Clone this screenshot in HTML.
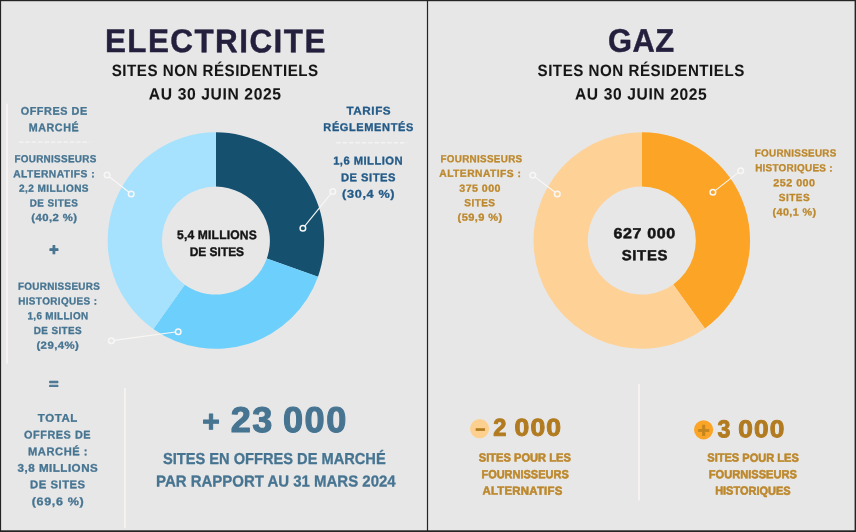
<!DOCTYPE html><html lang="fr"><head><meta charset="utf-8"><title>Sites non résidentiels</title>
<style>html,body{margin:0;padding:0;background:#e7e7e7}body{width:856px;height:532px;overflow:hidden}svg{display:block}text{font-family:"Liberation Sans",sans-serif;font-weight:700;white-space:pre;stroke-linejoin:round}</style></head><body>
<svg width="856" height="532" viewBox="0 0 856 532">
<rect width="856" height="532" fill="#e7e7e7"/>
<path d="M215.90 132.35A108.25 108.25 0 0 1 317.98 276.63L266.82 258.57A54.0 54.0 0 0 0 215.90 186.60Z" fill="#15506f"/>
<path d="M317.98 276.63A108.25 108.25 0 0 1 153.38 328.97L184.71 284.68A54.0 54.0 0 0 0 266.82 258.57Z" fill="#6ccffc"/>
<path d="M153.38 328.97A108.25 108.25 0 0 1 215.90 132.35L215.90 186.60A54.0 54.0 0 0 0 184.71 284.68Z" fill="#a6e2fe"/>
<path d="M641.80 132.25A108.25 108.25 0 0 1 704.88 328.47L673.27 284.39A54.0 54.0 0 0 0 641.80 186.50Z" fill="#fca426"/>
<path d="M704.88 328.47A108.25 108.25 0 1 1 641.80 132.25L641.80 186.50A54.0 54.0 0 1 0 673.27 284.39Z" fill="#fed197"/>
<g stroke="#f7f4f2" stroke-width="1.7"><line x1="7" y1="103.8" x2="7" y2="363.7"/><line x1="124.9" y1="388" x2="124.9" y2="528"/><line x1="639" y1="384" x2="639" y2="500.5"/></g>
<g stroke="#fbfbfb" stroke-width=".85" stroke-dasharray="4.6 1.77"><line x1="18.9" y1="142.1" x2="89.7" y2="142.1"/><line x1="336.2" y1="142.8" x2="407" y2="142.8"/></g>
<g stroke="#f9f7f5" fill="none"><line stroke-width="1.1" x1="109.30" y1="176.73" x2="129.00" y2="192.27"/><circle stroke-width="1.5" cx="107.10" cy="175.00" r="2.8"/><circle stroke-width="1.5" cx="131.20" cy="194.00" r="2.8"/></g>
<g stroke="#f9f7f5" fill="none"><line stroke-width="1.1" x1="114.08" y1="340.33" x2="175.42" y2="332.07"/><circle stroke-width="1.5" cx="111.30" cy="340.70" r="2.8"/><circle stroke-width="1.5" cx="178.20" cy="331.70" r="2.8"/></g>
<g stroke="#f9f7f5" fill="none"><line stroke-width="1.1" x1="331.03" y1="193.67" x2="304.67" y2="226.03"/><circle stroke-width="1.5" cx="332.80" cy="191.50" r="2.8"/><circle stroke-width="1.5" cx="302.90" cy="228.20" r="2.8"/></g>
<g stroke="#f9f7f5" fill="none"><line stroke-width="1.1" x1="535.03" y1="177.00" x2="555.07" y2="192.30"/><circle stroke-width="1.5" cx="532.80" cy="175.30" r="2.8"/><circle stroke-width="1.5" cx="557.30" cy="194.00" r="2.8"/></g>
<g stroke="#f9f7f5" fill="none"><line stroke-width="1.1" x1="738.49" y1="172.42" x2="715.11" y2="190.58"/><circle stroke-width="1.5" cx="740.70" cy="170.70" r="2.8"/><circle stroke-width="1.5" cx="712.90" cy="192.30" r="2.8"/></g>
<circle cx="479.6" cy="428.7" r="9.6" fill="#fed08f"/>
<circle cx="703.6" cy="429.8" r="9.6" fill="#fca426"/>
<text id="I0" transform="translate(210.9 421.4) rotate(.03) scale(1.0 1)" x="0" y="9.98" font-size="30" text-anchor="middle" fill="#467491" stroke="#467491" stroke-width="1.0" stroke-linejoin="round">+</text>
<text id="P" transform="translate(53.8 249.7) rotate(.03) scale(1.0 1)" x="0" y="5.32" font-size="16" text-anchor="middle" fill="#467491" stroke="#467491" stroke-width="1.0" stroke-linejoin="round">+</text>
<text id="E" transform="translate(53.8 383.8) rotate(.03) scale(1.13 1)" x="0" y="4.82" font-size="14.5" text-anchor="middle" fill="#467491" stroke="#467491" stroke-width="0.85" stroke-linejoin="round">=</text>
<text id="Q" transform="translate(480.3 429.3) rotate(.03) scale(1.0 1)" x="0" y="5.82" font-size="17.5" text-anchor="middle" fill="#b27c1e" stroke="#b27c1e" stroke-width="0.6" stroke-linejoin="round">−</text>
<text id="S" transform="translate(703.7 430.4) rotate(.03) scale(1.0 1)" x="0" y="6.82" font-size="20.5" text-anchor="middle" fill="#c3861f" stroke="#c3861f" stroke-width="0.8" stroke-linejoin="round">+</text>
<text id="T1" transform="rotate(.03 104.9 52.1)" x="104.88" y="52.08" font-size="32.78" letter-spacing="1.50" textLength="221.92" lengthAdjust="spacingAndGlyphs" fill="#231f3d" stroke="#231f3d" stroke-width="0.45">ELECTRICITE</text>
<text id="T2" transform="rotate(.03 111.8 75.9)" x="111.77" y="75.88" font-size="16.35" letter-spacing="0.56" textLength="206.91" lengthAdjust="spacingAndGlyphs" fill="#151515" stroke="#151515" stroke-width="0.05">SITES NON RÉSIDENTIELS</text>
<text id="T3" transform="rotate(.03 148.8 99.5)" x="148.82" y="99.47" font-size="16.35" letter-spacing="0.65" textLength="132.85" lengthAdjust="spacingAndGlyphs" fill="#151515" stroke="#151515" stroke-width="0.05">AU 30 JUIN 2025</text>
<text id="A1" transform="rotate(.03 20.7 114.8)" x="20.66" y="114.85" font-size="11.19" letter-spacing="0.56" textLength="67.03" lengthAdjust="spacingAndGlyphs" fill="#467491" stroke="#467491" stroke-width="0.3">OFFRES DE</text>
<text id="A2" transform="rotate(.03 28.6 131.1)" x="28.63" y="131.15" font-size="11.19" letter-spacing="0.64" textLength="50.67" lengthAdjust="spacingAndGlyphs" fill="#467491" stroke="#467491" stroke-width="0.3">MARCHÉ</text>
<text id="B1" transform="rotate(.03 14.4 162.2)" x="14.41" y="162.25" font-size="10.32" letter-spacing="0.32" textLength="82.17" lengthAdjust="spacingAndGlyphs" fill="#467491" stroke="#467491" stroke-width="0.3">FOURNISSEURS</text>
<text id="B2" transform="rotate(.03 13.1 177.1)" x="13.14" y="177.15" font-size="10.32" letter-spacing="0.46" textLength="81.88" lengthAdjust="spacingAndGlyphs" fill="#467491" stroke="#467491" stroke-width="0.3">ALTERNATIFS :</text>
<text id="B3" transform="rotate(.03 19.1 191.7)" x="19.12" y="191.75" font-size="10.32" letter-spacing="0.43" textLength="69.89" lengthAdjust="spacingAndGlyphs" fill="#467491" stroke="#467491" stroke-width="0.3">2,2 MILLIONS</text>
<text id="B4" transform="rotate(.03 29.7 206.4)" x="29.71" y="206.45" font-size="10.32" letter-spacing="0.46" textLength="48.49" lengthAdjust="spacingAndGlyphs" fill="#467491" stroke="#467491" stroke-width="0.3">DE SITES</text>
<text id="B5" transform="rotate(.03 31.3 220.9)" x="31.27" y="220.95" font-size="10.32" letter-spacing="0.38" textLength="46.21" lengthAdjust="spacingAndGlyphs" fill="#467491" stroke="#467491" stroke-width="0.3">(40,2 %)</text>
<text id="C1" transform="rotate(.03 18.0 289.8)" x="17.97" y="289.75" font-size="10.32" letter-spacing="0.31" textLength="82.05" lengthAdjust="spacingAndGlyphs" fill="#467491" stroke="#467491" stroke-width="0.3">FOURNISSEURS</text>
<text id="C2" transform="rotate(.03 18.2 304.6)" x="18.16" y="304.55" font-size="10.32" letter-spacing="0.42" textLength="79.33" lengthAdjust="spacingAndGlyphs" fill="#467491" stroke="#467491" stroke-width="0.3">HISTORIQUES :</text>
<text id="C3" transform="rotate(.03 27.5 319.2)" x="27.46" y="319.25" font-size="10.32" letter-spacing="0.37" textLength="61.00" lengthAdjust="spacingAndGlyphs" fill="#467491" stroke="#467491" stroke-width="0.3">1,6 MILLION</text>
<text id="C4" transform="rotate(.03 33.8 334.1)" x="33.76" y="334.05" font-size="10.32" letter-spacing="0.40" textLength="48.23" lengthAdjust="spacingAndGlyphs" fill="#467491" stroke="#467491" stroke-width="0.3">DE SITES</text>
<text id="C5" transform="rotate(.03 36.4 348.7)" x="36.40" y="348.65" font-size="10.32" letter-spacing="0.41" textLength="42.95" lengthAdjust="spacingAndGlyphs" fill="#467491" stroke="#467491" stroke-width="0.3">(29,4%)</text>
<text id="D1" transform="rotate(.03 37.8 421.9)" x="37.75" y="421.85" font-size="11.19" letter-spacing="0.57" textLength="40.22" lengthAdjust="spacingAndGlyphs" fill="#467491" stroke="#467491" stroke-width="0.3">TOTAL</text>
<text id="D2" transform="rotate(.03 24.0 438.4)" x="24.02" y="438.45" font-size="11.19" letter-spacing="0.56" textLength="67.16" lengthAdjust="spacingAndGlyphs" fill="#467491" stroke="#467491" stroke-width="0.3">OFFRES DE</text>
<text id="D3" transform="rotate(.03 28.1 455.2)" x="28.06" y="455.15" font-size="11.19" letter-spacing="0.55" textLength="60.09" lengthAdjust="spacingAndGlyphs" fill="#467491" stroke="#467491" stroke-width="0.3">MARCHÉ :</text>
<text id="D4" transform="rotate(.03 17.6 471.8)" x="17.58" y="471.75" font-size="11.19" letter-spacing="0.47" textLength="80.65" lengthAdjust="spacingAndGlyphs" fill="#467491" stroke="#467491" stroke-width="0.3">3,8 MILLIONS</text>
<text id="D5" transform="rotate(.03 30.1 488.4)" x="30.08" y="488.35" font-size="11.19" letter-spacing="0.50" textLength="55.57" lengthAdjust="spacingAndGlyphs" fill="#467491" stroke="#467491" stroke-width="0.3">DE SITES</text>
<text id="D6" transform="rotate(.03 31.7 505.2)" x="31.75" y="505.15" font-size="11.19" letter-spacing="0.57" textLength="52.56" lengthAdjust="spacingAndGlyphs" fill="#467491" stroke="#467491" stroke-width="0.3">(69,6 %)</text>
<text id="F1" transform="rotate(.03 346.5 114.5)" x="346.50" y="114.45" font-size="11.19" letter-spacing="0.52" textLength="44.73" lengthAdjust="spacingAndGlyphs" fill="#235a87" stroke="#235a87" stroke-width="0.3">TARIFS</text>
<text id="F2" transform="rotate(.03 323.3 131.0)" x="323.33" y="131.05" font-size="11.19" letter-spacing="0.61" textLength="90.57" lengthAdjust="spacingAndGlyphs" fill="#235a87" stroke="#235a87" stroke-width="0.3">RÉGLEMENTÉS</text>
<text id="G1" transform="rotate(.03 333.1 164.4)" x="333.13" y="164.45" font-size="11.34" letter-spacing="0.47" textLength="70.01" lengthAdjust="spacingAndGlyphs" fill="#235a87" stroke="#235a87" stroke-width="0.3">1,6 MILLION</text>
<text id="G2" transform="rotate(.03 340.9 181.2)" x="340.92" y="181.25" font-size="11.34" letter-spacing="0.51" textLength="55.11" lengthAdjust="spacingAndGlyphs" fill="#235a87" stroke="#235a87" stroke-width="0.3">DE SITES</text>
<text id="G3" transform="rotate(.03 342.1 197.8)" x="342.12" y="197.85" font-size="11.34" letter-spacing="0.58" textLength="53.11" lengthAdjust="spacingAndGlyphs" fill="#235a87" stroke="#235a87" stroke-width="0.3">(30,4 %)</text>
<text id="H1" transform="rotate(.03 177.0 239.1)" x="176.99" y="239.10" font-size="12.50" letter-spacing="0.20" textLength="79.97" lengthAdjust="spacingAndGlyphs" fill="#151515" stroke="#151515" stroke-width="0.4">5,4 MILLIONS</text>
<text id="H2" transform="rotate(.03 189.8 255.9)" x="189.76" y="255.90" font-size="12.50" textLength="54.33" lengthAdjust="spacingAndGlyphs" fill="#151515" stroke="#151515" stroke-width="0.4">DE SITES</text>
<text id="I1" transform="rotate(.03 230.7 431.9)" x="230.72" y="431.95" font-size="35.90" letter-spacing="1.57" textLength="43.24" lengthAdjust="spacingAndGlyphs" fill="#467491" stroke="#467491" stroke-width="1.1">23</text>
<text id="I1b" transform="rotate(.03 282.9 431.9)" x="282.94" y="431.95" font-size="35.90" letter-spacing="1.57" textLength="65.00" lengthAdjust="spacingAndGlyphs" fill="#467491" stroke="#467491" stroke-width="1.1">000</text>
<text id="I2" transform="rotate(.03 163.0 464.4)" x="163.03" y="464.35" font-size="15.84" textLength="222.66" lengthAdjust="spacingAndGlyphs" fill="#467491" stroke="#467491" stroke-width="0.3">SITES EN OFFRES DE MARCHÉ</text>
<text id="I3" transform="rotate(.03 156.0 486.4)" x="156.03" y="486.45" font-size="15.84" textLength="239.59" lengthAdjust="spacingAndGlyphs" fill="#467491" stroke="#467491" stroke-width="0.3">PAR RAPPORT AU 31 MARS 2024</text>
<text id="J1" transform="rotate(.03 608.1 51.8)" x="608.10" y="51.77" font-size="32.78" letter-spacing="0.54" textLength="66.63" lengthAdjust="spacingAndGlyphs" fill="#231f3d" stroke="#231f3d" stroke-width="0.45">GAZ</text>
<text id="J2" transform="rotate(.03 537.5 76.0)" x="537.54" y="75.97" font-size="16.35" letter-spacing="0.58" textLength="207.31" lengthAdjust="spacingAndGlyphs" fill="#151515" stroke="#151515" stroke-width="0.05">SITES NON RÉSIDENTIELS</text>
<text id="J3" transform="rotate(.03 575.0 99.6)" x="574.95" y="99.58" font-size="16.35" letter-spacing="0.65" textLength="132.42" lengthAdjust="spacingAndGlyphs" fill="#151515" stroke="#151515" stroke-width="0.05">AU 30 JUIN 2025</text>
<text id="K1" transform="rotate(.03 440.4 162.1)" x="440.41" y="162.15" font-size="10.32" letter-spacing="0.34" textLength="82.10" lengthAdjust="spacingAndGlyphs" fill="#bd882c" stroke="#bd882c" stroke-width="0.3">FOURNISSEURS</text>
<text id="K2" transform="rotate(.03 439.2 176.8)" x="439.25" y="176.85" font-size="10.32" letter-spacing="0.46" textLength="82.03" lengthAdjust="spacingAndGlyphs" fill="#bd882c" stroke="#bd882c" stroke-width="0.3">ALTERNATIFS :</text>
<text id="K3" transform="rotate(.03 459.4 191.6)" x="459.38" y="191.65" font-size="10.32" letter-spacing="0.42" textLength="41.51" lengthAdjust="spacingAndGlyphs" fill="#bd882c" stroke="#bd882c" stroke-width="0.3">375 000</text>
<text id="K4" transform="rotate(.03 464.3 206.3)" x="464.34" y="206.35" font-size="10.32" letter-spacing="0.47" textLength="31.14" lengthAdjust="spacingAndGlyphs" fill="#bd882c" stroke="#bd882c" stroke-width="0.3">SITES</text>
<text id="K5" transform="rotate(.03 457.6 220.8)" x="457.58" y="220.85" font-size="10.32" letter-spacing="0.38" textLength="45.06" lengthAdjust="spacingAndGlyphs" fill="#bd882c" stroke="#bd882c" stroke-width="0.3">(59,9 %)</text>
<text id="L1" transform="rotate(.03 754.7 156.5)" x="754.73" y="156.55" font-size="10.32" letter-spacing="0.30" textLength="81.88" lengthAdjust="spacingAndGlyphs" fill="#bd882c" stroke="#bd882c" stroke-width="0.3">FOURNISSEURS</text>
<text id="L2" transform="rotate(.03 755.2 171.3)" x="755.16" y="171.35" font-size="10.32" letter-spacing="0.27" textLength="77.64" lengthAdjust="spacingAndGlyphs" fill="#bd882c" stroke="#bd882c" stroke-width="0.3">HISTORIQUES :</text>
<text id="L3" transform="rotate(.03 773.4 186.2)" x="773.36" y="186.25" font-size="10.32" letter-spacing="0.42" textLength="42.11" lengthAdjust="spacingAndGlyphs" fill="#bd882c" stroke="#bd882c" stroke-width="0.3">252 000</text>
<text id="L4" transform="rotate(.03 778.9 200.9)" x="778.87" y="200.95" font-size="10.32" letter-spacing="0.47" textLength="31.32" lengthAdjust="spacingAndGlyphs" fill="#bd882c" stroke="#bd882c" stroke-width="0.3">SITES</text>
<text id="L5" transform="rotate(.03 772.6 215.5)" x="772.58" y="215.55" font-size="10.32" letter-spacing="0.38" textLength="43.94" lengthAdjust="spacingAndGlyphs" fill="#bd882c" stroke="#bd882c" stroke-width="0.3">(40,1 %)</text>
<text id="M1" transform="rotate(.03 613.4 238.1)" x="613.45" y="238.15" font-size="14.68" letter-spacing="0.60" textLength="62.47" lengthAdjust="spacingAndGlyphs" fill="#151515" stroke="#151515" stroke-width="0.5">627 000</text>
<text id="M2" transform="rotate(.03 621.7 260.1)" x="621.66" y="260.15" font-size="14.68" letter-spacing="0.67" textLength="46.46" lengthAdjust="spacingAndGlyphs" fill="#151515" stroke="#151515" stroke-width="0.5">SITES</text>
<text id="N1" transform="rotate(.03 493.1 435.7)" x="493.15" y="435.70" font-size="24.42" textLength="13.16" lengthAdjust="spacingAndGlyphs" fill="#b27b20" stroke="#b27b20" stroke-width="1.0">2</text>
<text id="N1b" transform="rotate(.03 514.6 435.7)" x="514.58" y="435.70" font-size="24.42" letter-spacing="1.08" textLength="47.64" lengthAdjust="spacingAndGlyphs" fill="#b27b20" stroke="#b27b20" stroke-width="1.0">000</text>
<text id="N2" transform="rotate(.03 478.8 461.4)" x="478.80" y="461.43" font-size="11.70" textLength="92.04" lengthAdjust="spacingAndGlyphs" fill="#bd882c" stroke="#bd882c" stroke-width="0.55">SITES POUR LES</text>
<text id="N3" transform="rotate(.03 481.4 478.2)" x="481.43" y="478.23" font-size="11.70" textLength="87.31" lengthAdjust="spacingAndGlyphs" fill="#bd882c" stroke="#bd882c" stroke-width="0.55">FOURNISSEURS</text>
<text id="N4" transform="rotate(.03 482.4 494.6)" x="482.42" y="494.62" font-size="11.70" letter-spacing="0.23" textLength="80.13" lengthAdjust="spacingAndGlyphs" fill="#bd882c" stroke="#bd882c" stroke-width="0.55">ALTERNATIFS</text>
<text id="O1" transform="rotate(.03 717.6 437.2)" x="717.60" y="437.20" font-size="24.42" textLength="12.89" lengthAdjust="spacingAndGlyphs" fill="#b27b20" stroke="#b27b20" stroke-width="1.0">3</text>
<text id="O1b" transform="rotate(.03 738.4 437.2)" x="738.35" y="437.20" font-size="24.42" letter-spacing="1.08" textLength="47.14" lengthAdjust="spacingAndGlyphs" fill="#b27b20" stroke="#b27b20" stroke-width="1.0">000</text>
<text id="O2" transform="rotate(.03 707.3 461.6)" x="707.27" y="461.62" font-size="11.70" textLength="91.60" lengthAdjust="spacingAndGlyphs" fill="#bd882c" stroke="#bd882c" stroke-width="0.55">SITES POUR LES</text>
<text id="O3" transform="rotate(.03 708.8 478.2)" x="708.81" y="478.23" font-size="11.70" textLength="88.12" lengthAdjust="spacingAndGlyphs" fill="#bd882c" stroke="#bd882c" stroke-width="0.55">FOURNISSEURS</text>
<text id="O4" transform="rotate(.03 715.2 494.6)" x="715.16" y="494.62" font-size="11.70" textLength="75.35" lengthAdjust="spacingAndGlyphs" fill="#bd882c" stroke="#bd882c" stroke-width="0.55">HISTORIQUES</text>
<g fill="#242424"><rect x="0" y="0" width="856" height="1.2"/><rect x="0" y="0" width="1.1" height="532"/><rect x="854.6" y="0" width="1.4" height="532"/><rect x="0" y="530.3" width="856" height="1.7"/><rect x="426.9" y="0" width="1.2" height="532"/></g>
</svg></body></html>
